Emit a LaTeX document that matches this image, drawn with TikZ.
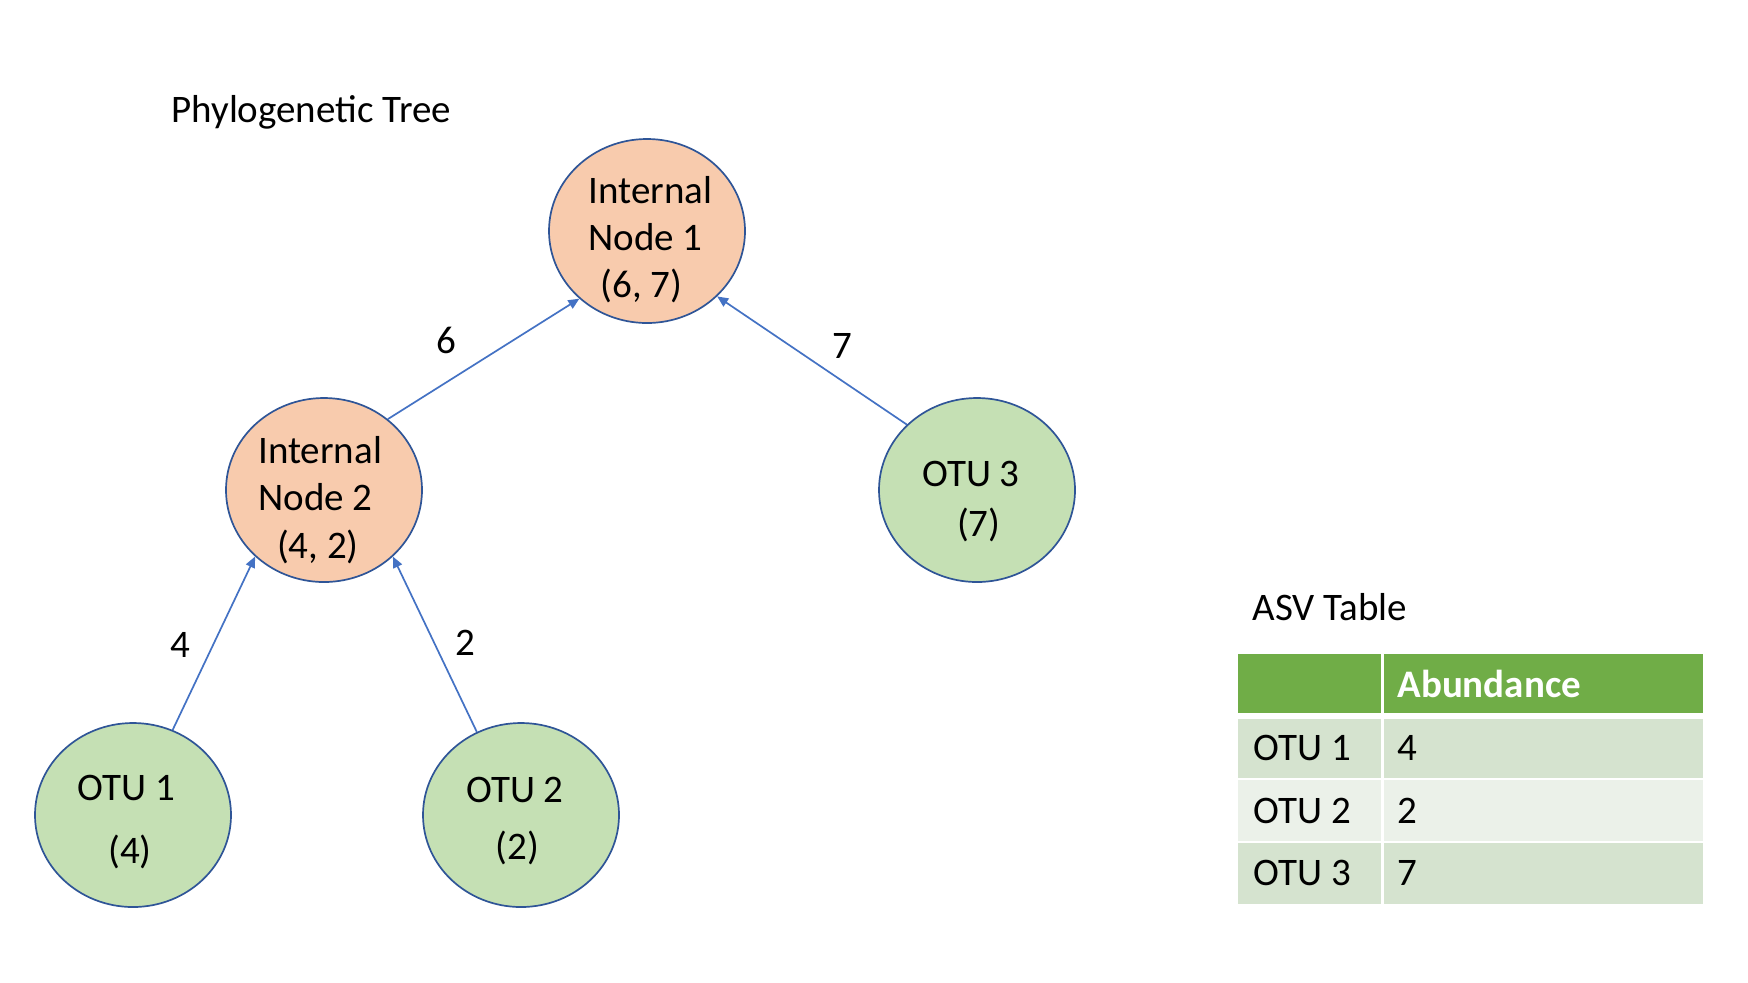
\documentclass[tikz,border=0pt]{standalone}
\usepackage{fontspec}
\usepackage{calc}
\setmainfont{Carlito}
\usetikzlibrary{arrows.meta,shapes.geometric}
\definecolor{nodeorange}{HTML}{F8CBAD}
\definecolor{nodegreen}{HTML}{C5E0B4}
\definecolor{nodeborder}{HTML}{2F5597}
\definecolor{edgeblue}{HTML}{4472C4}
\definecolor{hdrgreen}{HTML}{70AD47}
\definecolor{bandA}{HTML}{D5E3CF}
\definecolor{bandB}{HTML}{EBF1E9}
% node text block: lowered by #1, lines in #2 (declared extent trimmed so the ellipse keeps its size)
\newcommand{\nodetext}[2]{\raisebox{#1}[\height-6pt][\depth-6pt]{\begin{tabular}{@{}c@{}}#2\end{tabular}}}
\begin{document}
\begin{tikzpicture}[x=0.5pt,y=-0.5pt,
  every node/.style={font=\fontsize{19.5}{23.7}\selectfont},
  treenode/.style={ellipse, draw=nodeborder, line width=0.85pt, minimum width=98pt, minimum height=92pt, inner sep=0pt},
  internal/.style={treenode, fill=nodeorange},
  leaf/.style={treenode, fill=nodegreen},
  branch/.style={draw=edgeblue, line width=0.85pt, -{Triangle[length=5.5pt,width=4.8pt]}},
  edgelabel/.style={inner sep=0pt},
  plain/.style={inner sep=0pt, anchor=base west},
  cell/.style={inner sep=0pt, anchor=base west}
]
\useasboundingbox (0,0) rectangle (1748,982);
\fill[white] (0,0) rectangle (1748,982);

% title
\node[plain] (title) at (171,122) {Phylogenetic Tree};

% tree nodes
\node[internal] (n1) at (647,231) {\nodetext{-5pt}{\hspace*{3.4pt}Internal\\Node 1\hspace*{1.6pt}\\(6, 7)\hspace*{5.6pt}}};
\node[internal] (n2) at (324,490) {\nodetext{-5.7pt}{Internal\hspace*{3.9pt}\\Node 2\hspace*{8.4pt}\\(4, 2)\hspace*{6.1pt}}};
\node[leaf] (otu3) at (977,490) {\nodetext{-5.9pt}{OTU 3\hspace*{6pt}\\[1.25pt]\hspace*{1.8pt}(7)}};
\node[leaf] (otu1) at (133,815) {\nodetext{-3.9pt}{OTU 1\hspace*{6.5pt}\\[7.9pt](4)\hspace*{3.1pt}}};
\node[leaf] (otu2) at (521,815) {\nodetext{-3.2pt}{OTU 2\hspace*{6pt}\\[4.8pt](2)\hspace*{3.8pt}}};

% branches
\draw[branch] (n2.48) -- (n1.225);
\draw[branch] (otu3.137) -- (n1.317);
\draw[branch] (otu1.65) -- (n2.224);
\draw[branch] (otu2.118) -- (n2.316);

% branch labels
\node[edgelabel] (l6) at (446,340) {6};
\node[edgelabel] (l7) at (842,346) {7};
\node[edgelabel] (l4) at (180,645) {4};
\node[edgelabel] (l2) at (465,643) {2};

% ASV table
\node[plain] (asvtitle) at (1252,620) {ASV Table};
\fill[hdrgreen] (1238,654) rectangle (1381,713);
\fill[hdrgreen] (1384,654) rectangle (1703,713);
\fill[bandA] (1238,719) rectangle (1381,778);
\fill[bandA] (1384,719) rectangle (1703,778);
\fill[bandB] (1238,780) rectangle (1381,841);
\fill[bandB] (1384,780) rectangle (1703,841);
\fill[bandA] (1238,843) rectangle (1381,904);
\fill[bandA] (1384,843) rectangle (1703,904);
\node[cell, text=white, font=\fontsize{19.5}{23.7}\selectfont\bfseries] (hab) at (1397,697) {Abundance};
\node[cell] (r1a) at (1253,760) {OTU 1};
\node[cell] (r1b) at (1397,760) {4};
\node[cell] (r2a) at (1253,823) {OTU 2};
\node[cell] (r2b) at (1397,823) {2};
\node[cell] (r3a) at (1253,885) {OTU 3};
\node[cell] (r3b) at (1397,885) {7};
\end{tikzpicture}
\end{document}
